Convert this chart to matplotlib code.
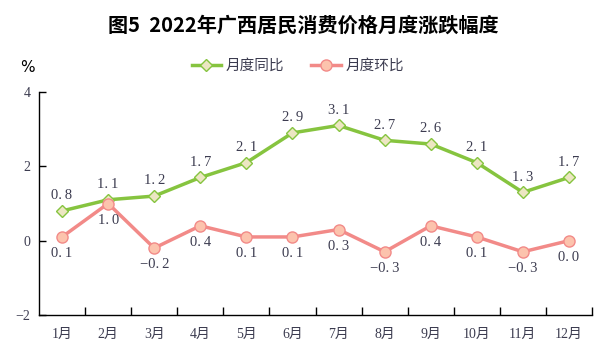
import numpy as np
import matplotlib.pyplot as plt

months = ['1月', '2月', '3月', '4月', '5月', '6月', '7月', '8月', '9月', '10月', '11月', '12月']
yoy = [0.8, 1.1, 1.2, 1.7, 2.1, 2.9, 3.1, 2.7, 2.6, 2.1, 1.3, 1.7]
mom = [0.1, 1.0, -0.2, 0.4, 0.1, 0.1, 0.3, -0.3, 0.4, 0.1, -0.3, 0.0]
yticks = [-2, 0, 2, 4]

num_font = ['Liberation Serif', 'Noto Sans CJK SC']
txt_col = '#3c3c50'
green, green_fill = '#86c43f', '#ece6c2'
red, red_fill = '#f28a88', '#fcc3ad'


def fmt(v):
    # wide-spaced digits like the original, unicode minus
    return ('%.1f' % v).replace('-', '−').replace('.', '.\u2009')


fig = plt.figure(figsize=(6.03, 3.56), dpi=100)
ax = fig.add_axes([39/603, 1-315/356, (592-39)/603, (315-92)/356])

x = np.arange(len(months))
ax.plot(x, yoy, color=green, lw=2.5, marker='D', ms=6, mfc=green_fill, mec=green, mew=1.0,
        label='月度同比', zorder=3)
ax.plot(x, mom, color=red, lw=2.5, marker='o', ms=8, mfc=red_fill, mec=red, mew=1.0,
        label='月度环比', zorder=3)

for i in range(len(months)):
    ax.annotate(fmt(yoy[i]), (x[i], yoy[i]), xytext=(0, 11), textcoords='offset points',
                ha='center', va='center', fontsize=10.5, family=num_font, color=txt_col)
    ax.annotate(fmt(mom[i]), (x[i], mom[i]), xytext=(0, -12), textcoords='offset points',
                ha='center', va='center', fontsize=10.5, family=num_font, color=txt_col)

ax.set_xlim(-0.5, len(months) - 0.5)
ax.set_ylim(-2, 4)
ax.set_yticks(yticks)
ax.set_yticklabels([str(v).replace('-', '−') for v in yticks], family=num_font,
                   fontsize=10, color=txt_col)
ax.set_xticks(x)
ax.set_xticklabels(months, family=num_font, fontsize=10, color=txt_col)
ax.set_xticks(np.arange(0.5, len(months)), minor=True)
ax.tick_params(axis='x', which='major', length=0, pad=9)
ax.tick_params(axis='x', which='minor', direction='in', length=6, width=1, color='black')
ax.tick_params(axis='y', direction='in', length=5, width=1, pad=6)
for s in ['top', 'right']:
    ax.spines[s].set_visible(False)
for s in ['left', 'bottom']:
    ax.spines[s].set_linewidth(1)
    ax.spines[s].set_color('black')

fig.text(303/603, 1-25/356, '图5  2022年广西居民消费价格月度涨跌幅度', ha='center', va='center',
         fontsize=14.5, fontweight='bold', family=['Noto Sans CJK SC', 'DejaVu Sans'])
fig.text(27/603, 1-67/356, '%', ha='center', va='center', fontsize=11,
         family=['DejaVu Sans'], color='black')

leg = fig.legend(loc='center', bbox_to_anchor=(298/603, 1-66/356), ncol=2, frameon=False,
                 prop={'family': ['Noto Sans CJK SC'], 'size': 10.5}, handlelength=2.0,
                 columnspacing=1.85, handletextpad=0.35)
for t in leg.get_texts():
    t.set_color(txt_col)

fig.savefig('out.png', dpi=100)
